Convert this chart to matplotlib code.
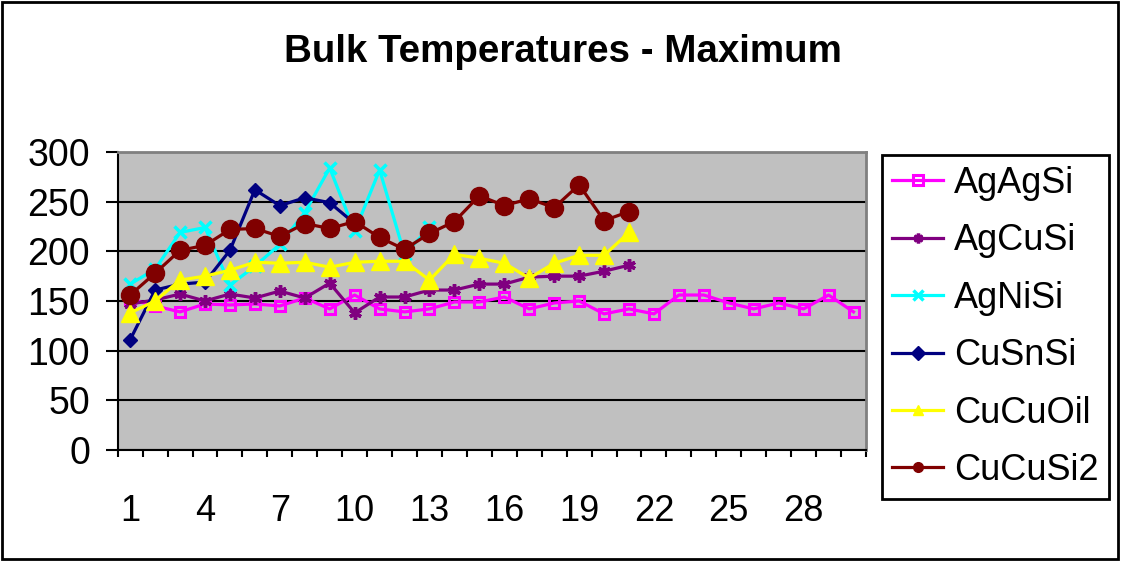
import numpy as np
import matplotlib
matplotlib.use('Agg')
import matplotlib.pyplot as plt
from matplotlib.patches import Rectangle

plt.rcParams['font.family'] = ['Liberation Sans', 'DejaVu Sans']

cats = list(range(1, 31))

ag_ag_si = [152, 145, 139, 147, 146, 147, 145, 153, 142, 156,
            142, 139, 142, 149, 149, 154, 142, 148, 150, 137,
            142, 137, 156, 156, 148, 142, 148, 142, 156, 139]
ag_cu_si = [147, 151, 157, 150, 157, 153, 160, 153, 168, 138,
            154, 154, 161, 161, 167, 167, 174, 175, 175, 180, 186]
ag_ni_si = [167, 182, 219, 224, 166, 185, 207, 239, 284, 220,
            282, 197, 224]
cu_sn_si = [111, 161, 167, 169, 201, 262, 246, 254, 249, 228]
cu_cu_oil = [138, 150, 171, 175, 181, 189, 188, 189, 184, 189,
             190, 190, 171, 197, 193, 188, 173, 188, 196, 196, 219]
cu_cu_si2 = [156, 178, 201, 206, 222, 223, 215, 228, 223, 230,
             214, 202, 218, 230, 256, 246, 253, 244, 267, 231, 240]

series = [
    ("AgAgSi", ag_ag_si, "#FF00FF", dict(marker='s', ms=7, mfc='none', mew=2.2)),
    ("AgCuSi", ag_cu_si, "#800080", dict(marker=(6, 2, 0), ms=9, mew=2.5)),
    ("AgNiSi", ag_ni_si, "#00FFFF", dict(marker='x', ms=9, mew=2.5)),
    ("CuSnSi", cu_sn_si, "#000080", dict(marker='D', ms=7)),
    ("CuCuOil", cu_cu_oil, "#FFFF00", dict(marker='^', ms=13)),
    ("CuCuSi2", cu_cu_si2, "#800000", dict(marker='o', ms=13)),
]

fig = plt.figure(figsize=(11.21, 5.61), dpi=100)
ax = fig.add_axes([0.105, 0.198, 0.6675, 0.531])
ax.set_facecolor('#C0C0C0')

for name, vals, col, mk in series:
    style = dict(mfc=col)
    style.update(mk)
    ax.plot(cats[:len(vals)], vals, color=col, lw=2.3, label=name, mec=col, **style)

ax.set_xlim(0.5, 30.5)
ax.set_ylim(0, 300)
ax.set_yticks(range(0, 301, 50))
ax.yaxis.grid(True, color='black', lw=1.5)
ax.set_axisbelow(True)

ax.set_xticks(range(1, 31, 3))
ax.set_xticks(np.arange(0.5, 31, 1), minor=True)
ax.tick_params(axis='x', which='major', length=0, pad=32, labelsize=26)
ax.tick_params(axis='x', which='minor', length=5, width=1.5)
ax.tick_params(axis='y', which='major', length=9, width=1.5, pad=11, labelsize=27)

for s in ['top', 'right']:
    ax.spines[s].set_color('#808080')
    ax.spines[s].set_linewidth(2)
for s in ['left', 'bottom']:
    ax.spines[s].set_color('black')
    ax.spines[s].set_linewidth(1.5)

fig.text(0.502, 0.907, "Bulk Temperatures - Maximum", ha='center', va='center',
         fontsize=27.7, fontweight='bold')

leg = fig.legend(loc='center', bbox_to_anchor=(0.888, 0.417), fontsize=26,
                 frameon=True, fancybox=False, edgecolor='black', framealpha=1,
                 labelspacing=0.62, handlelength=1.4, handletextpad=0.3,
                 borderpad=0.3, borderaxespad=0)
leg.get_frame().set_linewidth(2)
for h in leg.get_lines():
    h.set_markersize(7)

fig.patches.append(Rectangle((0.002, 0.004), 0.995, 0.992, transform=fig.transFigure,
                             fill=False, edgecolor='black', lw=2))

fig.savefig('out.png', dpi=100)
